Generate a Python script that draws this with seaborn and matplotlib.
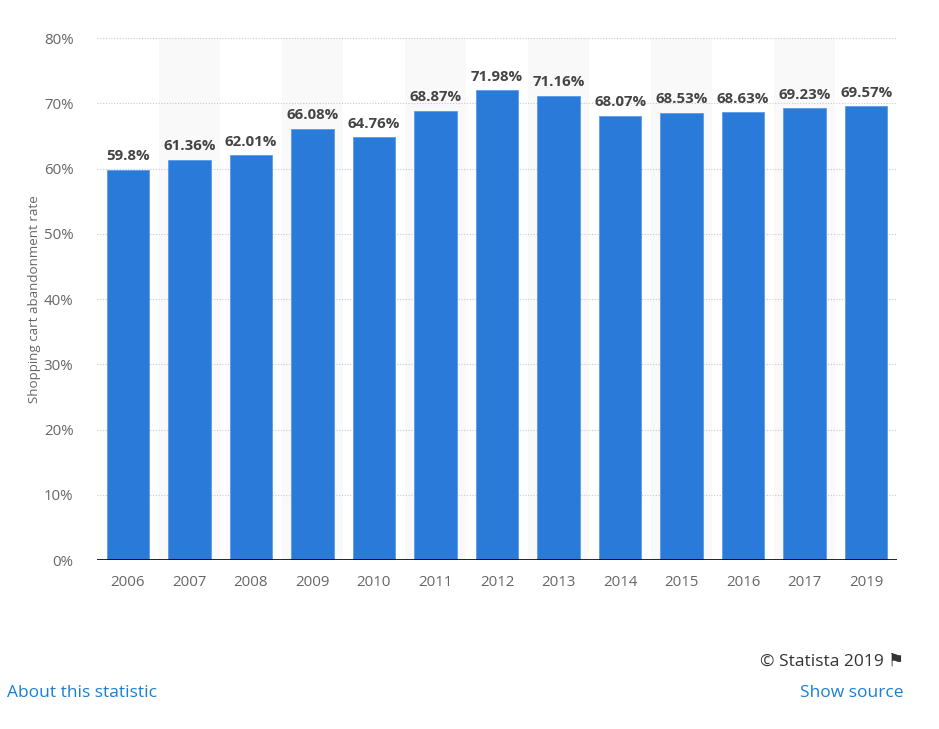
import pandas as pd
import seaborn as sns
import matplotlib.pyplot as plt

years = ["2006", "2007", "2008", "2009", "2010", "2011", "2012",
         "2013", "2014", "2015", "2016", "2017", "2019"]
rates = [59.8, 61.36, 62.01, 66.08, 64.76, 68.87, 71.98,
         71.16, 68.07, 68.53, 68.63, 69.23, 69.57]
labels = ["59.8%", "61.36%", "62.01%", "66.08%", "64.76%", "68.87%", "71.98%",
          "71.16%", "68.07%", "68.53%", "68.63%", "69.23%", "69.57%"]
y_ticks = [0, 10, 20, 30, 40, 50, 60, 70, 80]

df = pd.DataFrame({"Year": years, "Rate": rates})

sns.set_theme(style="white")
plt.rcParams["font.family"] = ["Open Sans", "DejaVu Sans"]

fig = plt.figure(figsize=(9.39, 7.29), dpi=100)
ax = fig.add_axes([0.1033, 0.2318, 0.852, 0.716])

# alternating column shading
for i in range(len(years)):
    if i % 2 == 1:
        ax.axvspan(i - 0.5, i + 0.5, color="#f9f9f9", zorder=0, lw=0)

sns.barplot(data=df, x="Year", y="Rate", color="#2a7ad9", saturation=1,
            width=0.69, ax=ax, zorder=3, edgecolor="#5a9be6", linewidth=0.6)

for i, (v, t) in enumerate(zip(rates, labels)):
    ax.text(i, v + 1.0, t, ha="center", va="bottom", fontsize=10.8,
            fontweight="bold", color="#444444", zorder=4)

ax.set_ylim(0, 80)
ax.set_xlim(-0.5, len(years) - 0.5)
ax.set_yticks(y_ticks)
ax.set_yticklabels([f"{t}%" for t in y_ticks])
for t in y_ticks[1:]:
    ax.axhline(t, color="#c8c8c8", lw=0.8, ls=(0, (1, 1.5)), zorder=1)
ax.axhline(0, color="#000000", lw=1.2, zorder=5)

for s in ax.spines.values():
    s.set_visible(False)
ax.tick_params(axis="both", length=0, labelsize=10.8, labelcolor="#666666")
ax.tick_params(axis="x", pad=11)
ax.tick_params(axis="y", pad=17)
ax.set_xlabel("")
ax.set_ylabel("Shopping cart abandonment rate", fontsize=9.6, color="#666666",
              labelpad=2)

fig.text(884 / 939, 1 - 662 / 729, "© Statista 2019", ha="right", va="center",
         fontsize=12.5, color="#333333")
fig.text(904 / 939, 1 - 661 / 729, "⚑", ha="right", va="center",
         fontsize=13, color="#333333", family="DejaVu Sans")
fig.text(7 / 939, 1 - 693 / 729, "About this statistic", ha="left", va="center",
         fontsize=12.5, color="#1a7fd4")
fig.text(903 / 939, 1 - 693 / 729, "Show source", ha="right", va="center",
         fontsize=12.5, color="#1a7fd4")

fig.savefig("out.png", dpi=100)
